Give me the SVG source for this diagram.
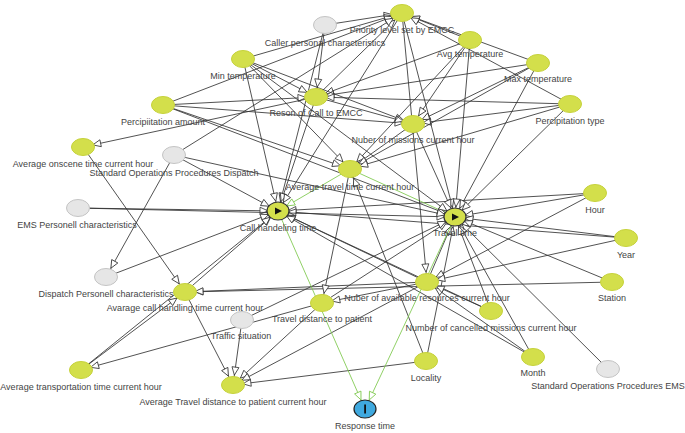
<svg xmlns="http://www.w3.org/2000/svg" width="685" height="433" viewBox="0 0 685 433">
<style>
.e line{stroke:#333;stroke-width:0.85;fill:none;marker-end:url(#ah)}
.e line.g{stroke:#7cc84a;marker-end:url(#ahg)}
.n ellipse{fill:#d3df4b;stroke:#c6d23c;stroke-width:1}
.n.grey ellipse{fill:#e6e6e6;stroke:#c4c4c4}
.n.main ellipse{stroke:#333;stroke-width:1.2}
text{font-family:"Liberation Sans",Arial,sans-serif;font-size:9px;fill:#444;text-anchor:middle}
</style>
<defs>
<marker id="ah" viewBox="-20 -5 22 10" refX="0" refY="0" markerWidth="22" markerHeight="10" markerUnits="userSpaceOnUse" orient="auto">
<path d="M-18,-3.5 L-10,0 L-18,3.5 Z" fill="#fff" stroke="#333" stroke-width="0.8"/>
</marker>
<marker id="ahg" viewBox="-20 -5 22 10" refX="0" refY="0" markerWidth="22" markerHeight="10" markerUnits="userSpaceOnUse" orient="auto">
<path d="M-18,-3.5 L-10,0 L-18,3.5 Z" fill="#fff" stroke="#7cc84a" stroke-width="0.8"/>
</marker>
</defs>
<rect width="685" height="433" fill="#fff"/>
<g id="connectors" class="e">
<line x1="325" y1="25" x2="402" y2="13"/>
<line x1="243" y1="59" x2="402" y2="13"/>
<line x1="316" y1="97" x2="402" y2="13"/>
<line x1="163" y1="105" x2="402" y2="13"/>
<line x1="174" y1="155" x2="402" y2="13"/>
<line x1="470" y1="40" x2="402" y2="13"/>
<line x1="538" y1="63" x2="402" y2="13"/>
<line x1="570" y1="104" x2="402" y2="13"/>
<line x1="325" y1="25" x2="316" y2="97"/>
<line x1="243" y1="59" x2="316" y2="97"/>
<line x1="163" y1="105" x2="316" y2="97"/>
<line x1="470" y1="40" x2="316" y2="97"/>
<line x1="538" y1="63" x2="316" y2="97"/>
<line x1="570" y1="104" x2="316" y2="97"/>
<line x1="243" y1="59" x2="413" y2="124"/>
<line x1="163" y1="105" x2="413" y2="124"/>
<line x1="316" y1="97" x2="413" y2="124"/>
<line x1="470" y1="40" x2="413" y2="124"/>
<line x1="538" y1="63" x2="413" y2="124"/>
<line x1="570" y1="104" x2="413" y2="124"/>
<line x1="243" y1="59" x2="350" y2="169"/>
<line x1="163" y1="105" x2="350" y2="169"/>
<line x1="413" y1="124" x2="350" y2="169"/>
<line x1="470" y1="40" x2="350" y2="169"/>
<line x1="538" y1="63" x2="350" y2="169"/>
<line x1="570" y1="104" x2="350" y2="169"/>
<line x1="426" y1="361" x2="350" y2="169"/>
<line x1="325" y1="25" x2="278" y2="211"/>
<line x1="316" y1="97" x2="278" y2="211"/>
<line x1="402" y1="13" x2="278" y2="211"/>
<line x1="174" y1="155" x2="278" y2="211"/>
<line x1="78" y1="208" x2="278" y2="211"/>
<line x1="106" y1="277" x2="278" y2="211"/>
<line x1="185" y1="292" x2="278" y2="211"/>
<line x1="81" y1="370" x2="278" y2="211"/>
<line x1="595" y1="193" x2="278" y2="211"/>
<line x1="626" y1="238" x2="278" y2="211"/>
<line x1="427" y1="282" x2="278" y2="211"/>
<line x1="491" y1="311" x2="278" y2="211"/>
<line x1="533" y1="357" x2="278" y2="211"/>
<line x1="243" y1="59" x2="278" y2="211"/>
<line class="g" x1="350" y1="169" x2="278" y2="211"/>
<line class="g" x1="350" y1="169" x2="455" y2="217"/>
<line x1="78" y1="208" x2="455" y2="217"/>
<line x1="163" y1="105" x2="455" y2="217"/>
<line x1="243" y1="59" x2="455" y2="217"/>
<line x1="470" y1="40" x2="455" y2="217"/>
<line x1="538" y1="63" x2="455" y2="217"/>
<line x1="570" y1="104" x2="455" y2="217"/>
<line x1="402" y1="13" x2="455" y2="217"/>
<line x1="413" y1="124" x2="455" y2="217"/>
<line x1="595" y1="193" x2="455" y2="217"/>
<line x1="626" y1="238" x2="455" y2="217"/>
<line x1="612" y1="282" x2="455" y2="217"/>
<line x1="608" y1="369" x2="455" y2="217"/>
<line x1="533" y1="357" x2="455" y2="217"/>
<line x1="426" y1="361" x2="455" y2="217"/>
<line x1="322" y1="303" x2="455" y2="217"/>
<line x1="242" y1="320" x2="455" y2="217"/>
<line x1="427" y1="282" x2="455" y2="217"/>
<line x1="491" y1="311" x2="455" y2="217"/>
<line x1="174" y1="155" x2="455" y2="217"/>
<line x1="316" y1="97" x2="83" y2="147"/>
<line x1="174" y1="155" x2="106" y2="277"/>
<line x1="83" y1="147" x2="185" y2="292"/>
<line x1="81" y1="370" x2="185" y2="292"/>
<line x1="612" y1="282" x2="185" y2="292"/>
<line x1="427" y1="282" x2="185" y2="292"/>
<line x1="402" y1="13" x2="427" y2="282"/>
<line x1="595" y1="193" x2="427" y2="282"/>
<line x1="626" y1="238" x2="427" y2="282"/>
<line x1="533" y1="357" x2="427" y2="282"/>
<line x1="491" y1="311" x2="427" y2="282"/>
<line x1="427" y1="282" x2="322" y2="303"/>
<line x1="350" y1="169" x2="322" y2="303"/>
<line x1="322" y1="303" x2="81" y2="370"/>
<line x1="322" y1="303" x2="233" y2="385"/>
<line x1="242" y1="320" x2="233" y2="385"/>
<line x1="426" y1="361" x2="233" y2="385"/>
<line x1="185" y1="292" x2="233" y2="385"/>
<line x1="427" y1="282" x2="233" y2="385"/>
<line class="g" x1="278" y1="211" x2="365" y2="409"/>
<line class="g" x1="455" y1="217" x2="365" y2="409"/>
</g>
<g id="n-prio" class="n"><ellipse cx="402" cy="13" rx="11.5" ry="8.5"/><text x="402" y="33">Priority level set by EMCC</text></g>
<g id="n-caller" class="n grey"><ellipse cx="325" cy="25" rx="11.5" ry="8.5"/><text x="325" y="46">Caller personal characteristics</text></g>
<g id="n-mint" class="n"><ellipse cx="243" cy="59" rx="11.5" ry="8.5"/><text x="243" y="79">Min temperature</text></g>
<g id="n-avgt" class="n"><ellipse cx="470" cy="40" rx="11.5" ry="8.5"/><text x="470" y="57">Avg temperature</text></g>
<g id="n-maxt" class="n"><ellipse cx="538" cy="63" rx="11.5" ry="8.5"/><text x="538" y="82">Max temperature</text></g>
<g id="n-ptype" class="n"><ellipse cx="570" cy="104" rx="11.5" ry="8.5"/><text x="570" y="124">Percipitation type</text></g>
<g id="n-reson" class="n"><ellipse cx="316" cy="97" rx="11.5" ry="8.5"/><text x="316" y="116">Reson of Call to EMCC</text></g>
<g id="n-pamt" class="n"><ellipse cx="163" cy="105" rx="11.5" ry="8.5"/><text x="163" y="125">Percipiitation amount</text></g>
<g id="n-nmiss" class="n"><ellipse cx="413" cy="124" rx="11.5" ry="8.5"/><text x="413" y="143">Nuber of missions current hour</text></g>
<g id="n-onscene" class="n"><ellipse cx="83" cy="147" rx="11.5" ry="8.5"/><text x="83" y="167">Average onscene time current hour</text></g>
<g id="n-sopd" class="n grey"><ellipse cx="174" cy="155" rx="11.5" ry="8.5"/><text x="174" y="176">Standard Operations Procedures Dispatch</text></g>
<g id="n-avgtravel" class="n"><ellipse cx="350" cy="169" rx="11.5" ry="8.5"/><text x="350" y="190">Average travel time current hour</text></g>
<g id="n-emsp" class="n grey"><ellipse cx="78" cy="208" rx="11.5" ry="8.5"/><text x="77" y="228">EMS Personell characteristics</text></g>
<g id="n-callh" class="n main"><ellipse cx="278" cy="211" rx="11" ry="9"/><path d="M275,207.5 L282,211 L275,214.5 Z" fill="#111"/><text x="278" y="231">Call handeling time</text></g>
<g id="n-travel" class="n main"><ellipse cx="455" cy="217" rx="11" ry="9"/><path d="M452,213.5 L459,217 L452,220.5 Z" fill="#111"/><text x="455" y="236">Travel time</text></g>
<g id="n-hour" class="n"><ellipse cx="595" cy="193" rx="11.5" ry="8.5"/><text x="595" y="213">Hour</text></g>
<g id="n-year" class="n"><ellipse cx="626" cy="238" rx="11.5" ry="8.5"/><text x="626" y="258">Year</text></g>
<g id="n-station" class="n"><ellipse cx="612" cy="282" rx="11.5" ry="8.5"/><text x="612" y="301">Station</text></g>
<g id="n-dispp" class="n grey"><ellipse cx="106" cy="277" rx="11.5" ry="8.5"/><text x="106" y="297">Dispatch Personell characteristics</text></g>
<g id="n-avgcall" class="n"><ellipse cx="185" cy="292" rx="11.5" ry="8.5"/><text x="185" y="311">Avarage call handling time current hour</text></g>
<g id="n-avail" class="n"><ellipse cx="427" cy="282" rx="11.5" ry="8.5"/><text x="427" y="301">Nuber of available resources current hour</text></g>
<g id="n-dist" class="n"><ellipse cx="322" cy="303" rx="11.5" ry="8.5"/><text x="322" y="322">Travel distance to patient</text></g>
<g id="n-traffic" class="n grey"><ellipse cx="242" cy="320" rx="11.5" ry="8.5"/><text x="241" y="339">Traffic situation</text></g>
<g id="n-cancel" class="n"><ellipse cx="491" cy="311" rx="11.5" ry="8.5"/><text x="491" y="331">Number of cancelled missions current hour</text></g>
<g id="n-transp" class="n"><ellipse cx="81" cy="370" rx="11.5" ry="8.5"/><text x="81" y="390">Average transportation time current hour</text></g>
<g id="n-avgdist" class="n"><ellipse cx="233" cy="385" rx="11.5" ry="8.5"/><text x="233" y="405">Average Travel distance to patient current hour</text></g>
<g id="n-locality" class="n"><ellipse cx="426" cy="361" rx="11.5" ry="8.5"/><text x="426" y="381">Locality</text></g>
<g id="n-month" class="n"><ellipse cx="533" cy="357" rx="11.5" ry="8.5"/><text x="533" y="376">Month</text></g>
<g id="n-sope" class="n grey"><ellipse cx="608" cy="369" rx="11.5" ry="8.5"/><text x="608" y="389">Standard Operations Procedures EMS</text></g>
<g id="n-resp" class="n"><ellipse cx="365" cy="409" rx="11" ry="9" style="fill:#3fa9df;stroke:#222;stroke-width:1.2"/><rect x="364.2" y="404.5" width="1.8" height="9" fill="#111"/><text x="365" y="429">Response time</text></g>
</svg>
